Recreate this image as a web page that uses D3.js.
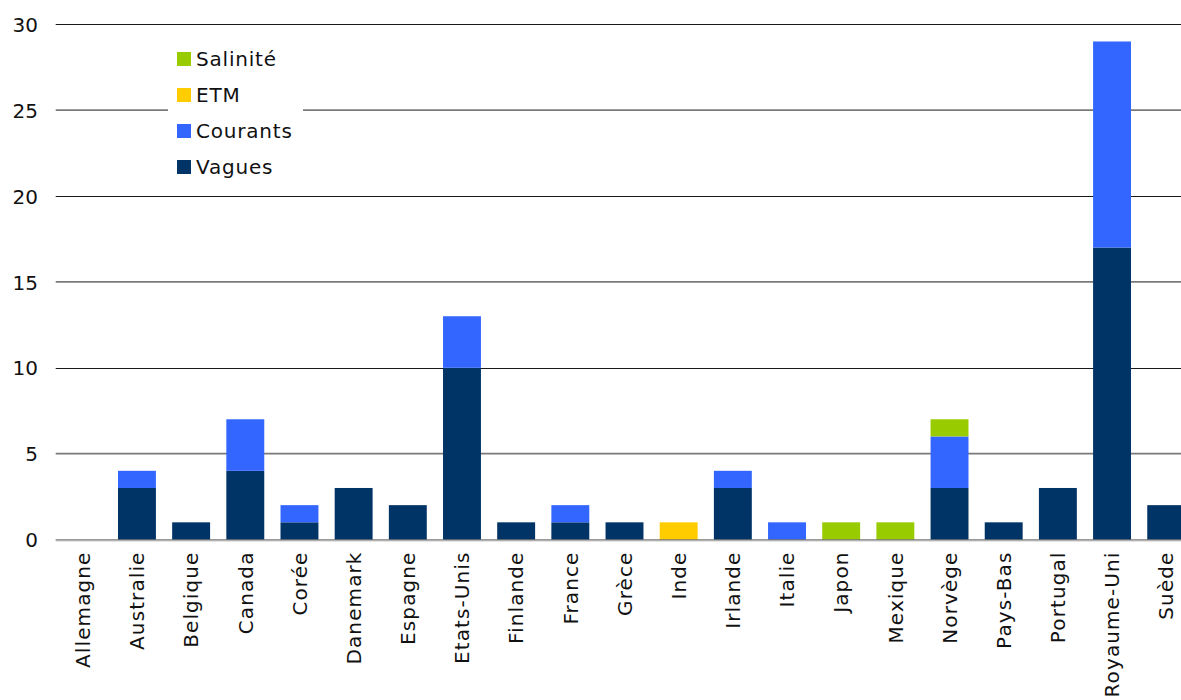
<!DOCTYPE html>
<html>
<head>
<meta charset="utf-8">
<script src="https://cdn.jsdelivr.net/npm/d3@7"></script>
<style>
  html, body { margin: 0; padding: 0; background: #fff; overflow: hidden; }
  svg { display: block; font-family: "DejaVu Sans", Verdana, sans-serif; }
</style>
</head>
<body>
<svg id="chart" width="1181" height="700"></svg>
<script>
// Countries on the horizontal axis
const pays = ["Allemagne", "Australie", "Belgique", "Canada", "Corée", "Danemark", "Espagne",
  "Etats-Unis", "Finlande", "France", "Grèce", "Inde", "Irlande", "Italie", "Japon", "Mexique",
  "Norvège", "Pays-Bas", "Portugal", "Royaume-Uni", "Suède"];

// Number of projects per technology, one value per country
const vagues   = [0, 3, 1, 4, 1, 3, 2, 10, 1, 1, 1, 0, 3, 0, 0, 0, 3, 1, 3, 17, 2];
const courants = [0, 1, 0, 3, 1, 0, 0, 3, 0, 1, 0, 0, 1, 1, 0, 0, 3, 0, 0, 12, 0];
const etm      = [0, 0, 0, 0, 0, 0, 0, 0, 0, 0, 0, 1, 0, 0, 0, 0, 0, 0, 0, 0, 0];
const salinite = [0, 0, 0, 0, 0, 0, 0, 0, 0, 0, 0, 0, 0, 0, 1, 1, 1, 0, 0, 0, 0];

const yTicks = [0, 5, 10, 15, 20, 25, 30];

const series = [
  { key: "Vagues",   values: vagues,   color: "#003366" },
  { key: "Courants", values: courants, color: "#3366FF" },
  { key: "ETM",      values: etm,      color: "#FFCC00" },
  { key: "Salinité", values: salinite, color: "#99CC00" }
];

const rows = pays.map((p, i) => {
  const r = { pays: p };
  series.forEach(s => { r[s.key] = s.values[i]; });
  return r;
});

const svg = d3.select("#chart");
const plotLeft = 55.7, plotRight = 1193.3, plotTop = 24.3, plotBottom = 539.5;

const x = d3.scaleBand().domain(pays).range([plotLeft, plotRight]).paddingInner(0.3).paddingOuter(0.15);
const y = d3.scaleLinear().domain([0, 30]).range([plotBottom, plotTop]);

// Horizontal gridlines
svg.append("g")
  .selectAll("line")
  .data(yTicks.filter(t => t > 0))
  .join("line")
  .attr("x1", plotLeft).attr("x2", 1181)
  .attr("y1", d => d % 10 === 0 ? Math.round(y(d)) + 0.5 : y(d))
  .attr("y2", d => d % 10 === 0 ? Math.round(y(d)) + 0.5 : y(d))
  .attr("stroke", d => d % 10 === 0 ? "#1a1a1a" : "#7a7a7a")
  .attr("stroke-width", d => d % 10 === 0 ? 1 : 1.6);

// Y axis labels
const yAxis = d3.axisLeft(y).tickValues(yTicks).tickSize(0).tickPadding(0);
const yg = svg.append("g").attr("transform", `translate(38,0)`).call(yAxis);
yg.select(".domain").remove();
yg.selectAll("text")
  .attr("font-size", 20)
  .attr("fill", "#111")
  .attr("font-family", "DejaVu Sans, Verdana, sans-serif")
  .attr("dy", "0.36em");

// Stacked bars
const stack = d3.stack().keys(series.map(s => s.key));
const layers = stack(rows);
svg.append("g")
  .selectAll("g")
  .data(layers)
  .join("g")
  .attr("fill", (d, i) => series[i].color)
  .selectAll("rect")
  .data(d => d.filter(v => v[1] > v[0]))
  .join("rect")
  .attr("x", d => x(d.data.pays))
  .attr("width", x.bandwidth())
  .attr("y", d => y(d[1]))
  .attr("height", d => y(d[0]) - y(d[1]));

// Baseline at zero
svg.append("line")
  .attr("x1", plotLeft).attr("x2", 1181)
  .attr("y1", plotBottom + 0.5).attr("y2", plotBottom + 0.5)
  .attr("stroke", "#333").attr("stroke-width", 1);
svg.append("line")
  .attr("x1", plotLeft).attr("x2", 1181)
  .attr("y1", plotBottom + 1.5).attr("y2", plotBottom + 1.5)
  .attr("stroke", "#c8c8c8").attr("stroke-width", 1);

// Country labels, rotated
const xAxis = d3.axisBottom(x).tickSize(0).tickPadding(0);
const xg = svg.append("g").attr("transform", `translate(0,${plotBottom})`).call(xAxis);
xg.select(".domain").remove();
xg.selectAll("text")
  .attr("font-size", 20)
  .attr("letter-spacing", 1.1)
  .attr("fill", "#111")
  .attr("font-family", "DejaVu Sans, Verdana, sans-serif")
  .attr("text-anchor", "end")
  .attr("transform", "rotate(-90)")
  .attr("x", -12)
  .attr("y", 0)
  .attr("dy", "0.36em");

// Legend
const legend = svg.append("g");
legend.append("rect")
  .attr("x", 168).attr("y", 38).attr("width", 135).attr("height", 148)
  .attr("fill", "#fff");
const legendItems = series.slice().reverse();
const li = legend.selectAll("g.item")
  .data(legendItems)
  .join("g")
  .attr("class", "item")
  .attr("transform", (d, i) => `translate(177,${52 + i * 36})`);
li.append("rect").attr("width", 14).attr("height", 14).attr("fill", d => d.color);
li.append("text")
  .attr("x", 19).attr("y", 7).attr("dy", "0.36em")
  .attr("font-size", 20)
  .attr("letter-spacing", 0.8)
  .attr("fill", "#111")
  .text(d => d.key);
</script>
</body>
</html>
